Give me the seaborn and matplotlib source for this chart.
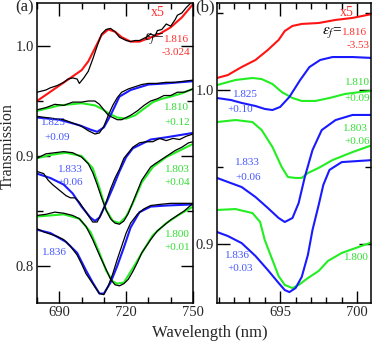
import numpy as np
import matplotlib
matplotlib.use("Agg")
import matplotlib.pyplot as plt
from matplotlib.ticker import MultipleLocator
import seaborn as sns

# ── Panel (a): fitted curves ─────────────────────────────────────────────────
a_red_x = [680, 685, 690, 695, 700, 703, 706, 709, 712, 715, 718, 722, 726, 730, 735, 740, 745, 750]
a_red_y = [0.950, 0.957, 0.964, 0.971, 0.978, 0.986, 0.998, 1.010, 1.015, 1.013, 1.008, 1.004,
           1.004, 1.007, 1.011, 1.017, 1.026, 1.038]

a_g1810_x = [680, 690, 700, 706, 709, 712, 716, 720, 724, 728, 732, 736, 740, 745, 750]
a_g1810_y = [0.941, 0.946, 0.948, 0.946, 0.943, 0.939, 0.935, 0.934, 0.937, 0.943, 0.949,
             0.952, 0.954, 0.957, 0.961]

a_b1825_x = [680, 690, 699, 704, 707, 710, 713, 717, 722, 730, 738, 750]
a_b1825_y = [0.935, 0.933, 0.928, 0.924, 0.922, 0.926, 0.937, 0.954, 0.960, 0.965, 0.966, 0.968]

a_g1803_x = [680, 686, 693, 700, 705, 708, 711, 714, 717, 720, 723, 727, 732, 738, 744, 750]
a_g1803_y = [0.898, 0.901, 0.903, 0.900, 0.889, 0.871, 0.851, 0.841, 0.839, 0.845, 0.857,
             0.876, 0.890, 0.899, 0.905, 0.911]

a_b1833_x = [680, 686, 692, 696, 700, 704, 706, 708, 711, 714, 717, 720, 723, 731, 738, 750]
a_b1833_y = [0.884, 0.880, 0.874, 0.866, 0.854, 0.844, 0.841, 0.844, 0.857, 0.871, 0.886,
             0.899, 0.907, 0.915, 0.917, 0.921]

a_g1800_x = [680, 692, 699, 704, 708, 711, 714, 716, 719, 723, 728, 732, 738, 744, 750]
a_g1800_y = [0.845, 0.847, 0.843, 0.831, 0.812, 0.796, 0.786, 0.784, 0.785, 0.798, 0.815,
             0.828, 0.839, 0.847, 0.854]

a_b1836_x = [680, 686, 693, 698, 702, 705, 708, 710, 713, 716, 719, 722, 726, 731, 738, 750]
a_b1836_y = [0.833, 0.830, 0.822, 0.812, 0.796, 0.785, 0.775, 0.775, 0.785, 0.800, 0.817,
             0.835, 0.849, 0.854, 0.855, 0.856]

# ── Panel (a): measured data (black) ─────────────────────────────────────────
d_red_x = [680, 684, 686, 689, 692, 694, 696, 698, 699, 701, 703, 705, 707, 709, 711, 713, 715,
           717, 720, 722, 724, 726, 729, 731, 733, 734, 736, 738, 740, 742, 743, 745, 747, 749, 750]
d_red_y = [0.958, 0.960, 0.962, 0.964, 0.967, 0.970, 0.971, 0.970, 0.966, 0.971, 0.977, 0.988,
           1.000, 1.011, 1.015, 1.016, 1.013, 1.008, 1.005, 1.004, 1.005, 1.005, 1.008, 1.011,
           1.009, 1.014, 1.015, 1.020, 1.018, 1.024, 1.028, 1.030, 1.035, 1.039, 1.042]

d_1810_x = [680, 684, 688, 692, 696, 700, 703, 706, 708, 710, 712, 714, 716, 718, 720, 722, 725,
            728, 731, 734, 737, 740, 743, 746, 750]
d_1810_y = [0.942, 0.944, 0.947, 0.946, 0.949, 0.949, 0.950, 0.950, 0.947, 0.942, 0.937, 0.935,
            0.933, 0.933, 0.935, 0.937, 0.941, 0.946, 0.950, 0.952, 0.955, 0.955, 0.958, 0.958, 0.961]

d_1825_x = [680, 684, 688, 692, 696, 700, 703, 706, 708, 710, 712, 714, 716, 718, 721, 724, 727,
            730, 734, 738, 742, 746, 750]
d_1825_y = [0.936, 0.935, 0.934, 0.933, 0.930, 0.927, 0.923, 0.920, 0.921, 0.927, 0.937, 0.946,
            0.953, 0.958, 0.961, 0.963, 0.965, 0.966, 0.966, 0.967, 0.967, 0.968, 0.969]

d_1833_x = [680, 683, 685, 687, 690, 693, 695, 697, 699, 701, 703, 705, 707, 709, 711, 713, 715,
            717, 719, 721, 723, 726, 729, 732, 735, 738, 741, 744, 747, 750]
d_1833_y = [0.886, 0.884, 0.878, 0.874, 0.869, 0.864, 0.862, 0.862, 0.858, 0.852, 0.846, 0.840,
            0.840, 0.848, 0.858, 0.870, 0.880, 0.888, 0.898, 0.903, 0.908, 0.912, 0.913, 0.913,
            0.916, 0.914, 0.916, 0.915, 0.918, 0.920]

d_1803_x = [680, 684, 688, 692, 696, 700, 703, 705, 707, 709, 711, 713, 715, 717, 719, 721, 723,
            725, 727, 729, 731, 733, 736, 739, 742, 745, 748, 750]
d_1803_y = [0.898, 0.902, 0.903, 0.904, 0.903, 0.899, 0.893, 0.885, 0.874, 0.862, 0.851, 0.843,
            0.839, 0.838, 0.841, 0.848, 0.858, 0.868, 0.878, 0.884, 0.890, 0.893, 0.897, 0.901,
            0.905, 0.908, 0.912, 0.913]

d_1800_x = [680, 684, 688, 692, 696, 699, 702, 705, 708, 711, 713, 715, 717, 719, 721, 723, 725,
            727, 729, 731, 734, 737, 740, 743, 746, 750]
d_1800_y = [0.846, 0.847, 0.849, 0.848, 0.846, 0.843, 0.836, 0.824, 0.810, 0.797, 0.788, 0.783,
            0.782, 0.784, 0.788, 0.795, 0.803, 0.812, 0.818, 0.824, 0.832, 0.837, 0.842, 0.846,
            0.850, 0.857]

d_1836_x = [680, 683, 686, 689, 692, 695, 698, 700, 702, 704, 706, 708, 710, 712, 714, 716, 718,
            720, 722, 725, 728, 731, 735, 740, 745, 750]
d_1836_y = [0.834, 0.831, 0.829, 0.827, 0.824, 0.818, 0.810, 0.802, 0.793, 0.787, 0.781, 0.775,
            0.774, 0.782, 0.793, 0.806, 0.818, 0.830, 0.839, 0.847, 0.852, 0.855, 0.856, 0.857,
            0.857, 0.857]

# ── Panel (b): computed curves ───────────────────────────────────────────────
b_red_x = [690.9, 691.6, 692.5, 693.4, 694.2, 694.9, 695.3, 695.8, 696.4, 697.5, 698.6, 699.7, 701.0]
b_red_y = [1.0078, 1.0097, 1.0149, 1.0195, 1.0260, 1.0325, 1.0383, 1.0416, 1.0429, 1.0435,
           1.0455, 1.0468, 1.0494]

b_g1810_x = [690.9, 692.1, 693.2, 693.8, 694.5, 695.1, 695.8, 696.4, 697.3, 698.2, 699.2, 700.2, 701.0]
b_g1810_y = [1.0032, 1.0065, 1.0078, 1.0071, 1.0039, 0.9987, 0.9948, 0.9929, 0.9929, 0.9948,
             0.9974, 0.9987, 0.9994]

b_b1825_x = [690.9, 691.8, 692.5, 693.4, 694.0, 694.5, 695.0, 695.6, 696.3, 696.9, 697.6, 698.4,
             699.7, 701.0]
b_b1825_y = [0.9948, 0.9935, 0.9916, 0.9896, 0.9877, 0.9870, 0.9890, 0.9955, 1.0065, 1.0149,
             1.0195, 1.0214, 1.0214, 1.0208]

b_g1803_x = [690.9, 692.1, 693.2, 693.8, 694.5, 695.1, 695.5, 696.0, 696.4, 696.8, 697.5, 698.4,
             699.7, 701.0]
b_g1803_y = [0.9792, 0.9805, 0.9792, 0.9740, 0.9630, 0.9500, 0.9435, 0.9429, 0.9429, 0.9461,
             0.9494, 0.9545, 0.9597, 0.9643]

b_b1833_x = [690.9, 691.6, 692.5, 693.4, 694.2, 694.9, 695.3, 695.8, 696.2, 696.6, 697.1, 697.7,
             698.6, 699.7, 701.0]
b_b1833_y = [0.9429, 0.9403, 0.9370, 0.9305, 0.9234, 0.9169, 0.9143, 0.9169, 0.9266, 0.9435,
             0.9610, 0.9740, 0.9805, 0.9838, 0.9838]

b_g1800_x = [690.9, 692.1, 693.2, 693.7, 694.0, 694.5, 694.9, 695.3, 695.8, 696.2, 696.8, 697.5,
             698.1, 699.0, 699.9, 701.0]
b_g1800_y = [0.9221, 0.9227, 0.9201, 0.9143, 0.9026, 0.8896, 0.8792, 0.8734, 0.8714, 0.8734,
             0.8779, 0.8825, 0.8890, 0.8942, 0.8974, 0.9013]

b_b1836_x = [690.9, 691.6, 692.5, 693.4, 694.2, 694.9, 695.3, 695.6, 696.0, 696.4, 696.8, 697.1,
             697.5, 697.8, 698.2, 699.0, 701.0]
b_b1836_y = [0.9078, 0.9052, 0.9006, 0.8922, 0.8831, 0.8747, 0.8701, 0.8688, 0.8714, 0.8786,
             0.8929, 0.9091, 0.9253, 0.9383, 0.9481, 0.9532, 0.9545]

RED, GREEN, BLUE = "#ff1414", "#22ee22", "#1a1aff"
RED_T, GREEN_T, BLUE_T = "#ff3030", "#33dd33", "#4455ff"

sns.set_style("ticks")
plt.rcParams["font.family"] = ["Liberation Serif", "DejaVu Serif"]
plt.rcParams["mathtext.fontset"] = "stix"

fig = plt.figure(figsize=(3.73, 3.43), dpi=100)
ax_a = fig.add_axes([0.0992, 0.1166, 0.4182, 0.8747])
ax_b = fig.add_axes([0.5818, 0.1166, 0.4129, 0.8747])


def line(ax, x, y, color, lw):
    sns.lineplot(x=x, y=y, ax=ax, color=color, lw=lw, estimator=None, sort=False)


# fits first, measured data on top
fits_a = [
    (a_red_x, a_red_y, RED), (a_g1810_x, a_g1810_y, GREEN), (a_b1825_x, a_b1825_y, BLUE),
    (a_g1803_x, a_g1803_y, GREEN), (a_b1833_x, a_b1833_y, BLUE),
    (a_g1800_x, a_g1800_y, GREEN), (a_b1836_x, a_b1836_y, BLUE),
]
for x, y, c in fits_a:
    line(ax_a, x, y, c, 1.5)
for x, y in [(d_red_x, d_red_y), (d_1810_x, d_1810_y), (d_1825_x, d_1825_y),
             (d_1833_x, d_1833_y), (d_1803_x, d_1803_y), (d_1800_x, d_1800_y),
             (d_1836_x, d_1836_y)]:
    line(ax_a, x, y, "black", 0.9)

fits_b = [
    (b_red_x, b_red_y, RED), (b_g1810_x, b_g1810_y, GREEN), (b_b1825_x, b_b1825_y, BLUE),
    (b_g1803_x, b_g1803_y, GREEN), (b_b1833_x, b_b1833_y, BLUE),
    (b_g1800_x, b_g1800_y, GREEN), (b_b1836_x, b_b1836_y, BLUE),
]
for x, y, c in fits_b:
    line(ax_b, x, y, c, 1.5)

# ── Axes styling ─────────────────────────────────────────────────────────────
ax_a.set_xlim(680, 750)
ax_a.set_ylim(0.7664, 1.0391)
ax_a.xaxis.set_major_locator(MultipleLocator(30))
ax_a.xaxis.set_minor_locator(MultipleLocator(10))
ax_a.yaxis.set_major_locator(MultipleLocator(0.1))
ax_a.yaxis.set_minor_locator(MultipleLocator(0.05))

ax_b.set_xlim(690.9, 700.9)
ax_b.set_ylim(0.8617, 1.0565)
ax_b.xaxis.set_major_locator(MultipleLocator(5))
ax_b.xaxis.set_minor_locator(MultipleLocator(1))
ax_b.yaxis.set_major_locator(MultipleLocator(0.1))
ax_b.yaxis.set_minor_locator(MultipleLocator(0.05))

for ax in (ax_a, ax_b):
    ax.set_xlabel("")
    ax.set_ylabel("")
    ax.yaxis.set_major_formatter(plt.FuncFormatter(lambda v, p: f"{v:.1f}"))
    ax.tick_params(which="both", direction="in", top=True, right=True,
                   labelsize=10.5, pad=2, width=1.0, color="black")
    ax.tick_params(which="major", length=9)
    ax.tick_params(which="minor", length=4.5)
    for s in ax.spines.values():
        s.set_linewidth(1.1)
        s.set_color("black")

# ── Annotations panel (a) ────────────────────────────────────────────────────
fs = 8
ta = ax_a.transAxes
ax_a.text(0.776, 0.967, "x5", color=RED_T, fontsize=10, ha="center", va="center", transform=ta)
ax_a.text(0.815, 0.880, r"$\varepsilon_f$=", color="black", fontsize=11, ha="right", va="center", transform=ta)
ax_a.text(0.815, 0.877, "1.816", color=RED_T, fontsize=fs, ha="left", va="center", transform=ta)
ax_a.text(0.985, 0.835, "-3.024", color=RED_T, fontsize=fs, ha="right", va="center", transform=ta)
ax_a.text(0.897, 0.650, "1.810", color=GREEN_T, fontsize=fs, ha="center", va="center", transform=ta)
ax_a.text(0.897, 0.600, "+0.12", color=GREEN_T, fontsize=fs, ha="center", va="center", transform=ta)
ax_a.text(0.103, 0.600, "1.825", color=BLUE_T, fontsize=fs, ha="center", va="center", transform=ta)
ax_a.text(0.128, 0.553, "+0.09", color=BLUE_T, fontsize=fs, ha="center", va="center", transform=ta)
ax_a.text(0.212, 0.445, "1.833", color=BLUE_T, fontsize=fs, ha="center", va="center", transform=ta)
ax_a.text(0.212, 0.401, "+0.06", color=BLUE_T, fontsize=fs, ha="center", va="center", transform=ta)
ax_a.text(0.897, 0.445, "1.803", color=GREEN_T, fontsize=fs, ha="center", va="center", transform=ta)
ax_a.text(0.900, 0.401, "+0.04", color=GREEN_T, fontsize=fs, ha="center", va="center", transform=ta)
ax_a.text(0.115, 0.167, "1.836", color=BLUE_T, fontsize=fs, ha="center", va="center", transform=ta)
ax_a.text(0.897, 0.229, "1.800", color=GREEN_T, fontsize=fs, ha="center", va="center", transform=ta)
ax_a.text(0.897, 0.185, "+0.01", color=GREEN_T, fontsize=fs, ha="center", va="center", transform=ta)

# ── Annotations panel (b) ────────────────────────────────────────────────────
tb = ax_b.transAxes
ax_b.text(0.844, 0.967, "x5", color=RED_T, fontsize=10, ha="center", va="center", transform=tb)
ax_b.text(0.812, 0.903, r"$\varepsilon_f$=", color="black", fontsize=11, ha="right", va="center", transform=tb)
ax_b.text(0.812, 0.900, "1.816", color=RED_T, fontsize=fs, ha="left", va="center", transform=tb)
ax_b.text(0.916, 0.858, "-3.53", color=RED_T, fontsize=fs, ha="center", va="center", transform=tb)
ax_b.text(0.182, 0.695, "1.825", color=BLUE_T, fontsize=fs, ha="center", va="center", transform=tb)
ax_b.text(0.149, 0.645, "+0.10", color=BLUE_T, fontsize=fs, ha="center", va="center", transform=tb)
ax_b.text(0.909, 0.735, "1.810", color=GREEN_T, fontsize=fs, ha="center", va="center", transform=tb)
ax_b.text(0.909, 0.683, "+0.09", color=GREEN_T, fontsize=fs, ha="center", va="center", transform=tb)
ax_b.text(0.896, 0.580, "1.803", color=GREEN_T, fontsize=fs, ha="center", va="center", transform=tb)
ax_b.text(0.909, 0.538, "+0.06", color=GREEN_T, fontsize=fs, ha="center", va="center", transform=tb)
ax_b.text(0.195, 0.469, "1.833", color=BLUE_T, fontsize=fs, ha="center", va="center", transform=tb)
ax_b.text(0.201, 0.418, "+0.06", color=BLUE_T, fontsize=fs, ha="center", va="center", transform=tb)
ax_b.text(0.136, 0.158, "1.836", color=BLUE_T, fontsize=fs, ha="center", va="center", transform=tb)
ax_b.text(0.149, 0.115, "+0.03", color=BLUE_T, fontsize=fs, ha="center", va="center", transform=tb)
ax_b.text(0.903, 0.153, "1.800", color=GREEN_T, fontsize=fs, ha="center", va="center", transform=tb)

fig.text(0.067, 0.977, "(a)", fontsize=12, ha="center", va="center")
fig.text(0.550, 0.977, "(b)", fontsize=12, ha="center", va="center")
fig.text(0.021, 0.574, "Transmission", fontsize=11.5, rotation=90, ha="center", va="center")
fig.text(0.563, 0.029, "Wavelength (nm)", fontsize=12, ha="center", va="center")

fig.savefig("out.png", dpi=100)
